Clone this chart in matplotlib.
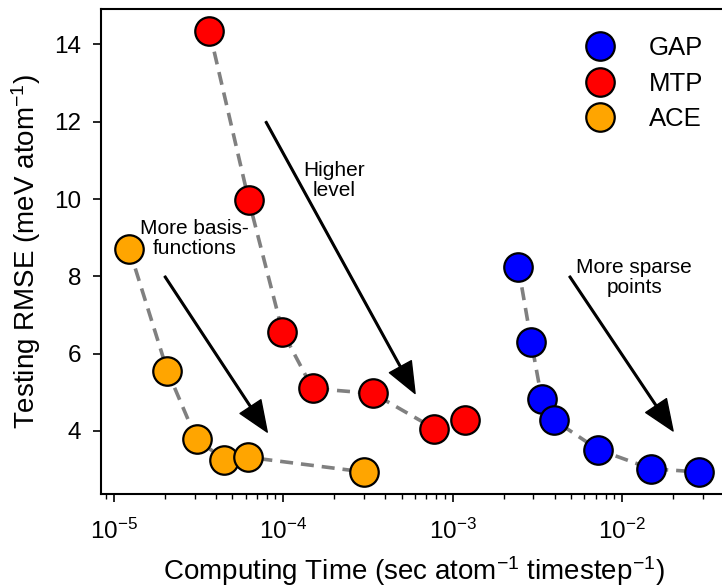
import numpy as np
import matplotlib.pyplot as plt

plt.rcParams['font.family'] = ['Liberation Sans', 'DejaVu Sans']
plt.rcParams['mathtext.fontset'] = 'custom'
plt.rcParams['mathtext.rm'] = 'Liberation Sans'
plt.rcParams['mathtext.it'] = 'Liberation Sans:italic'

# computing time (sec / atom / timestep) and testing RMSE (meV / atom)
gap_time = [2.44e-3, 2.91e-3, 3.36e-3, 3.98e-3, 7.2e-3, 1.49e-2, 2.86e-2]
gap_rmse = [8.25, 6.31, 4.82, 4.28, 3.52, 3.02, 2.94]

mtp_time = [3.67e-5, 6.25e-5, 9.9e-5, 1.49e-4, 3.4e-4, 7.8e-4, 1.18e-3]
mtp_rmse = [14.34, 9.98, 6.57, 5.10, 4.97, 4.06, 4.28]

ace_time = [1.23e-5, 2.07e-5, 3.08e-5, 4.5e-5, 6.2e-5, 3.0e-4]
ace_rmse = [8.72, 5.56, 3.78, 3.26, 3.32, 2.94]

fig = plt.figure(figsize=(7.22, 5.85), dpi=100)
ax = fig.add_axes([0.1392, 0.1556, 0.869, 0.8286])

series = [("GAP", gap_time, gap_rmse, "#0000ff"),
          ("MTP", mtp_time, mtp_rmse, "#ff0000"),
          ("ACE", ace_time, ace_rmse, "#ffa500")]

for name, t, r, c in series:
    ax.plot(t, r, color="gray", ls=(0, (3.6, 2.2)), lw=2.6, zorder=1)
for name, t, r, c in series:
    ax.plot(t, r, "o", ls="none", ms=20.5, mfc=c, mec="k", mew=1.6,
            label=name, zorder=2)

ax.set_xscale("log")

# arrows + notes
arrow = dict(facecolor="black", edgecolor="black", width=1.2,
             headwidth=18, headlength=22, shrink=0)
ax.annotate("", xy=(8.05e-5, 3.97), xytext=(2.0e-5, 8.0), arrowprops=arrow)
ax.annotate("", xy=(6.0e-4, 4.97), xytext=(7.9e-5, 12.0), arrowprops=arrow)
ax.annotate("", xy=(2.0e-2, 4.0), xytext=(4.9e-3, 8.0), arrowprops=arrow)

ax.text(3.0e-5, 8.98, "More basis-\nfunctions", ha="center", va="center",
        fontsize=15, linespacing=1.05)
ax.text(2.0e-4, 10.47, "Higher\nlevel", ha="center", va="center",
        fontsize=15, linespacing=1.05)
ax.text(1.18e-2, 7.97, "More sparse\npoints", ha="center", va="center",
        fontsize=15, linespacing=1.05)

ax.set_xlabel("Computing Time (sec atom$^{-1}$ timestep$^{-1}$)", fontsize=20,
              labelpad=7)
ax.set_ylabel("Testing RMSE (meV atom$^{-1}$)", fontsize=20, labelpad=8)
ax.set_yticks([4, 6, 8, 10, 12, 14])
ax.tick_params(axis="both", which="major", labelsize=17.5, length=6, width=1.2)
ax.tick_params(axis="x", which="major", pad=12)
ax.tick_params(axis="y", which="major", pad=8)
ax.tick_params(axis="both", which="minor", length=3.5, width=1.0)
for s in ax.spines.values():
    s.set_linewidth(1.5)

ax.legend(loc="upper right", bbox_to_anchor=(0.997, 0.993), frameon=False,
          fontsize=18.5, labelspacing=0.46, handletextpad=0.9)

fig.savefig("out.png", dpi=100)
plt.close(fig)
